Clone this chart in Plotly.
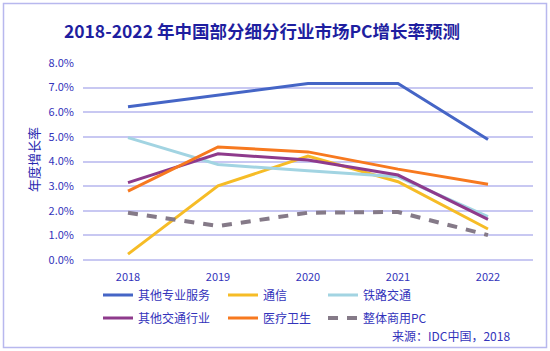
import plotly.graph_objects as go

years = ["2018", "2019", "2020", "2021", "2022"]
s_prof = [0.0622, 0.0669, 0.0717, 0.0717, 0.0489]
s_tel = [0.0024, 0.0301, 0.0422, 0.0318, 0.0126]
s_rail = [0.0497, 0.0388, 0.0362, 0.0338, 0.0176]
s_trans = [0.0314, 0.0431, 0.0406, 0.0345, 0.0165]
s_med = [0.0280, 0.0459, 0.0439, 0.0369, 0.0308]
s_all = [0.0192, 0.0138, 0.0192, 0.0195, 0.0101]

names = ["其他专业服务", "通信", "铁路交通", "其他交通行业", "医疗卫生", "整体商用PC"]
series = [s_prof, s_tel, s_rail, s_trans, s_med, s_all]
colors = ["#4565C6", "#F6BC26", "#A2D4E2", "#8E3A8C", "#F7791F", "#857A88"]

FONT = "Noto Sans CJK SC"
TXT = "#3333BB"

W, H = 550, 351
L, R, T, B = 83, 17, 63, 91
pw, ph = W - L - R, H - T - B

def px(x):
    return (x - L) / pw

def py(y):
    return (H - B - y) / ph

fig = go.Figure()
legend_pos = [(98, 295), (223, 295), (323, 295), (98, 318), (223, 318), (323, 318)]
for i, (n, s, c) in enumerate(zip(names, series, colors)):
    lg = "legend" if i == 0 else f"legend{i+1}"
    dash = "10px,9px" if i == 5 else "solid"
    width = 4 if i == 5 else 3
    fig.add_trace(go.Scatter(x=years, y=s, name=n, mode="lines",
                             line=dict(color=c, width=width, dash=dash),
                             legend=lg, hoverinfo="skip"))

layout_legends = {}
for i, (lx, ly) in enumerate(legend_pos):
    key = "legend" if i == 0 else f"legend{i+1}"
    layout_legends[key] = dict(x=px(lx), y=py(ly), xanchor="left", yanchor="middle",
                               bgcolor="rgba(0,0,0,0)", font=dict(family=FONT, size=12, color=TXT),
                               borderwidth=0, itemwidth=30)

fig.update_layout(
    width=W, height=H,
    margin=dict(l=L, r=R, t=T, b=B),
    paper_bgcolor="white", plot_bgcolor="white",
    title=dict(text="<b>2018-2022 年中国部分细分行业市场PC增长率预测</b>",
               x=262 / W, xanchor="center", y=1 - 32 / H, yanchor="middle",
               font=dict(family=FONT, size=17.5, color="#1E1EA0")),
    xaxis=dict(range=[-0.5, 4.5], showgrid=False, zeroline=False, showline=False, ticks="",
               ticklabelstandoff=9,
               tickfont=dict(family=FONT, size=11, color=TXT)),
    yaxis=dict(range=[0, 0.08], dtick=0.01, tickformat=".1%", showgrid=True,
               gridcolor="#C8C8F2", gridwidth=1.5, zeroline=True, zerolinecolor="#C8C8F2",
               zerolinewidth=1.5, showline=False, ticks="", ticklabelstandoff=8,
               tickfont=dict(family=FONT, size=11, color=TXT)),
    showlegend=True,
    font=dict(family=FONT),
    **layout_legends,
)

fig.add_annotation(text="年度增长率", textangle=-90, xref="paper", yref="paper",
                   x=px(33), y=py(160), xanchor="center", yanchor="middle", showarrow=False,
                   font=dict(family=FONT, size=13, color="#2A2AB0"))
fig.add_annotation(text="来源：IDC中国，2018", xref="paper", yref="paper",
                   x=px(512), y=py(335), xanchor="right", yanchor="middle", showarrow=False,
                   font=dict(family=FONT, size=12, color=TXT))
fig.add_shape(type="rect", xref="paper", yref="paper",
              x0=px(3.5), x1=px(546.5), y0=py(347.5), y1=py(3.5),
              line=dict(color="#B8B8EE", width=1.5), layer="below")

fig.write_html("out.html")
